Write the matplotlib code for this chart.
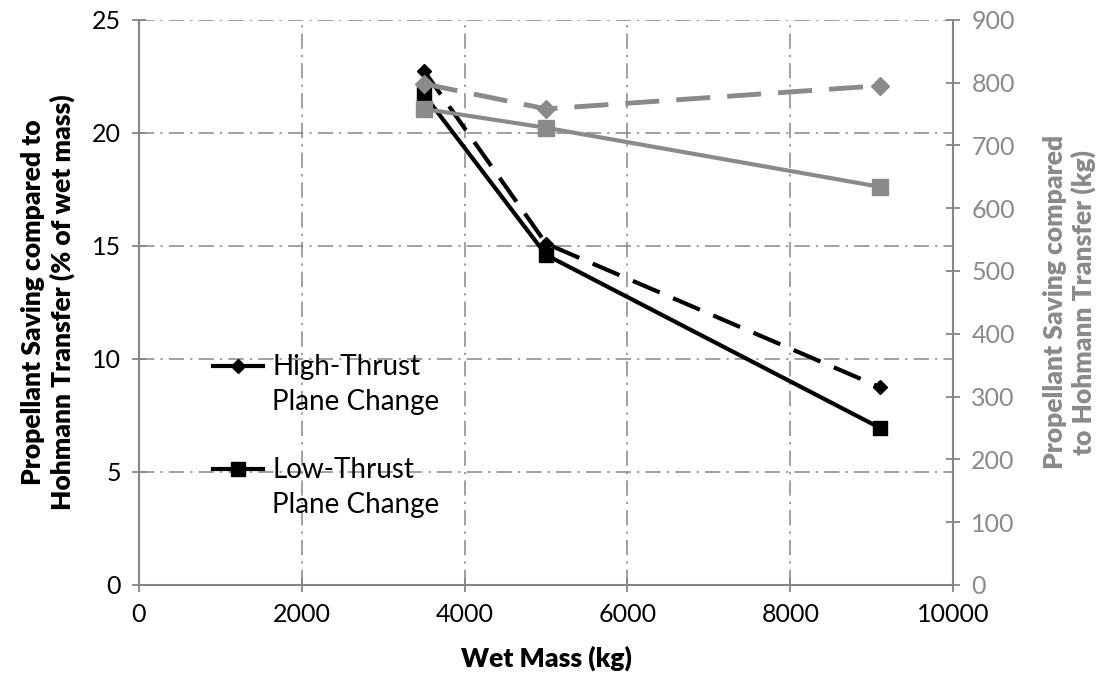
import matplotlib.pyplot as plt
from matplotlib.lines import Line2D

wet_mass = [3500, 5000, 9100]

# left axis, % of wet mass
high_pct = [22.75, 15.1, 8.75]
low_pct = [21.7, 14.6, 6.95]

# right axis, kg
high_kg = [798, 758, 795]
low_kg = [758, 728, 634]

x_ticks = [0, 2000, 4000, 6000, 8000, 10000]
left_ticks = [0, 5, 10, 15, 20, 25]
right_ticks = [0, 100, 200, 300, 400, 500, 600, 700, 800, 900]

legend_rows = ['High-Thrust', 'Plane Change', 'Pp', 'Low-Thrust', 'Plane Change']

grey = '#8a8a8a'
axis_grey = '#868686'

plt.rcParams['font.family'] = ['Lato', 'DejaVu Sans']

fig = plt.figure(figsize=(11.11, 6.81), dpi=100)
ax = fig.add_axes([0.125, 0.141, 0.733, 0.830])
ax2 = ax.twinx()

ax.set_xlim(0, 10000)
ax.set_ylim(0, 25)
ax2.set_ylim(0, 900)
ax.set_xticks(x_ticks)
ax.set_yticks(left_ticks)
ax2.set_yticks(right_ticks)

# grid
ax.grid(True, color=axis_grey, linestyle='-.', linewidth=1.1, dashes=(10, 4, 1.5, 4))
ax.set_axisbelow(True)

for a in (ax, ax2):
    a.spines['top'].set_visible(False)
    for s in ('left', 'right', 'bottom'):
        a.spines[s].set_color(axis_grey)
        a.spines[s].set_linewidth(1.5)
ax.spines['right'].set_visible(False)
ax2.spines['left'].set_visible(False)
ax2.spines['bottom'].set_visible(False)

ax.tick_params(axis='both', direction='inout', length=10, width=1.3, color=axis_grey,
               labelsize=18, pad=8)
ax2.tick_params(axis='y', direction='inout', length=10, width=1.3, color=axis_grey,
                labelsize=18, labelcolor=grey, pad=8)

# series
ax.plot(wet_mass, high_pct, color='black', lw=3, dashes=(7, 3.5), marker='D', ms=7, zorder=4)
ax.plot(wet_mass, low_pct, color='black', lw=3, marker='s', ms=10, zorder=4)
ax2.plot(wet_mass, high_kg, color=grey, lw=3.5, dashes=(7, 3.5), marker='D', ms=9, zorder=3)
ax2.plot(wet_mass, low_kg, color=grey, lw=3, marker='s', ms=12, zorder=3)

label_font = dict(fontsize=19, fontweight='heavy')
ax.set_xlabel('Wet Mass (kg)', labelpad=14, **label_font)
ax.set_ylabel('Propellant Saving compared to\nHohmann Transfer (% of wet mass)', labelpad=12, **label_font)
ax2.set_ylabel('Propellant Saving compared\nto Hohmann Transfer (kg)', color=grey, labelpad=20, **label_font)

# legend: marker row on the first text line of each entry, like the original
blank = Line2D([], [], color='none')
handles = [
    Line2D([], [], color='black', lw=3, marker='D', ms=7),
    blank,
    blank,
    Line2D([], [], color='black', lw=3, marker='s', ms=10),
    blank,
]
leg = ax.legend(handles, legend_rows,
                loc='upper left', bbox_to_anchor=(0.06, 0.452), frameon=False,
                fontsize=20, handlelength=1.8, labelspacing=0.3, handletextpad=0.35)
# spacer row keeps its height but is not shown
leg.get_texts()[2].set_color('none')

fig.savefig('out.png', dpi=100)
